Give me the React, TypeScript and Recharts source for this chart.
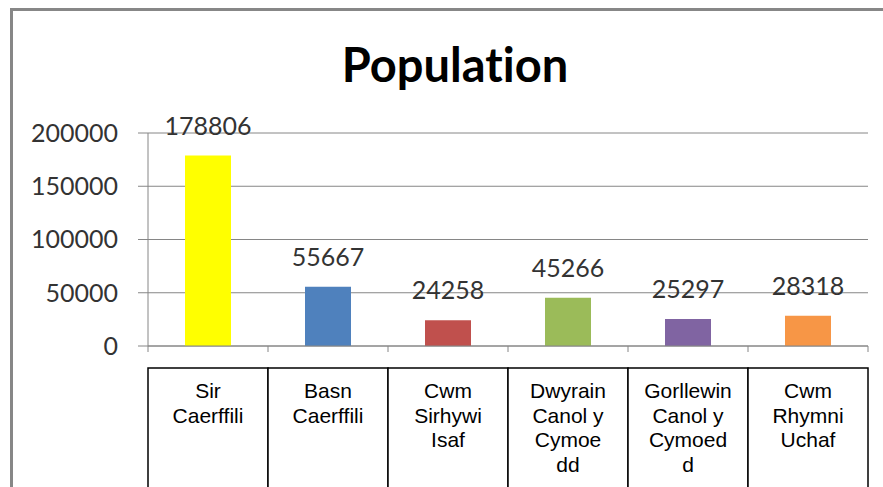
import React from 'react';
import { BarChart, Bar, XAxis, YAxis, CartesianGrid, Cell, LabelList } from 'recharts';

const categories = [
  'Sir Caerffili',
  'Basn Caerffili',
  'Cwm Sirhywi Isaf',
  'Dwyrain Canol y Cymoedd',
  'Gorllewin Canol y Cymoedd',
  'Cwm Rhymni Uchaf',
];

// wrapped the way the original label boxes show them
const categoryLines = [
  ['Sir', 'Caerffili'],
  ['Basn', 'Caerffili'],
  ['Cwm', 'Sirhywi', 'Isaf'],
  ['Dwyrain', 'Canol y', 'Cymoe', 'dd'],
  ['Gorllewin', 'Canol y', 'Cymoed', 'd'],
  ['Cwm', 'Rhymni', 'Uchaf'],
];

const population = [178806, 55667, 24258, 45266, 25297, 28318];

const yTicks = [0, 50000, 100000, 150000, 200000];

const barColors = ['#FFFF00', '#4F81BD', '#C0504D', '#9BBB59', '#8064A2', '#F79646'];

const data = categories.map((name, i) => ({ name, population: population[i] }));

const CHART_W = 883;
const CHART_H = 487;
const MARGIN = { top: 133, right: 15, left: 0, bottom: 0 };
const Y_AXIS_W = 148;
const BAND = (CHART_W - MARGIN.left - MARGIN.right - Y_AXIS_W) / categories.length;

const GRID = '#868686';
const TEXT = '#333333';
const NUM_FONT = 'Lato, "Open Sans", sans-serif';

const CategoryTick = (props: any) => {
  const { x, y, payload } = props;
  const idx = categories.indexOf(payload.value);
  const lines = categoryLines[idx] || [payload.value];
  const half = BAND / 2;
  const isLast = idx === categories.length - 1;
  return (
    <g>
      <line x1={x - half} x2={x - half} y1={y} y2={y + 6} stroke={GRID} />
      {isLast && <line x1={x + half} x2={x + half} y1={y} y2={y + 6} stroke={GRID} />}
      <rect x={x - half} y={y + 22} width={BAND} height={160} fill="#fff" stroke="#000" strokeWidth={1.5} />
      {lines.map((ln, i) => (
        <text
          key={i}
          x={x}
          y={y + 52 + i * 24.5}
          textAnchor="middle"
          fontFamily='"Liberation Sans", Arial, sans-serif'
          fontSize={21}
          fill="#000"
        >
          {ln}
        </text>
      ))}
    </g>
  );
};

const App: React.FC = () => {
  return (
    <div style={{ position: 'absolute', left: 0, top: 0, width: CHART_W, height: CHART_H, background: '#fff', overflow: 'hidden' }}>
      <div
        style={{
          position: 'absolute',
          left: 10,
          top: 8,
          right: 0,
          bottom: 0,
          borderTop: '3px solid #878787',
          borderLeft: '3px solid #878787',
        }}
      />
      <div
        style={{
          position: 'absolute',
          left: 0,
          width: 910,
          top: 41,
          textAlign: 'center',
          fontFamily: NUM_FONT,
          fontWeight: 700,
          fontSize: 47,
          lineHeight: 1,
          fontVariantLigatures: 'none',
          color: '#000',
        }}
      >
        Population
      </div>
      <div style={{ position: 'absolute', left: 0, top: 0 }}>
        <BarChart width={CHART_W} height={CHART_H} data={data} margin={MARGIN}>
          <CartesianGrid horizontal vertical={false} stroke={GRID} />
          <YAxis
            width={Y_AXIS_W}
            domain={[0, 200000]}
            ticks={yTicks}
            interval={0}
            axisLine={{ stroke: GRID }}
            tickLine={{ stroke: GRID }}
            tickSize={10}
            tickMargin={20}
            tick={{ fontFamily: NUM_FONT, fontSize: 25, fill: TEXT }}
          />
          <XAxis
            dataKey="name"
            height={CHART_H - MARGIN.top - MARGIN.bottom - 213}
            interval={0}
            axisLine={{ stroke: GRID }}
            tickLine={false}
            tickSize={0}
            tickMargin={0}
            tick={<CategoryTick />}
          />
          <Bar dataKey="population" barSize={46} isAnimationActive={false}>
            {data.map((d, i) => (
              <Cell key={d.name} fill={barColors[i]} />
            ))}
            <LabelList
              dataKey="population"
              position="top"
              offset={21}
              style={{ fontFamily: NUM_FONT, fontSize: 25, fill: TEXT }}
            />
          </Bar>
        </BarChart>
      </div>
    </div>
  );
};

export default App;
